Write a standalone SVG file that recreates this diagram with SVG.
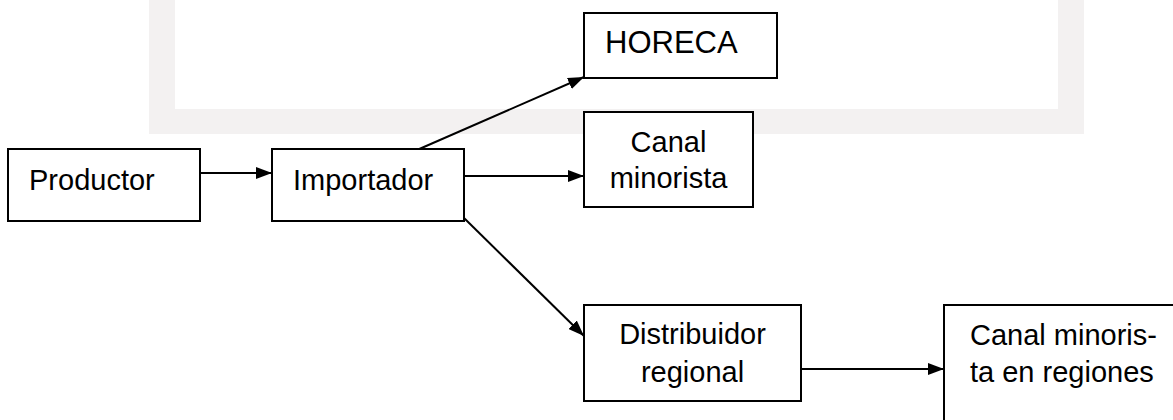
<svg xmlns="http://www.w3.org/2000/svg" width="1173" height="420" viewBox="0 0 1173 420">
<defs>
<style>
.box{fill:#ffffff;stroke:#000000;stroke-width:2}
.t{font-family:"Liberation Sans",Arial,sans-serif;font-size:29px;fill:#000000}
.c{text-anchor:middle}
.edge{stroke:#000000;stroke-width:2;fill:none;marker-end:url(#ah)}
</style>
<marker id="ah" viewBox="0 0 16 12" refX="16" refY="6" markerWidth="16" markerHeight="12" markerUnits="userSpaceOnUse" orient="auto">
<path d="M0,0 L16,6 L0,12 Z" fill="#000000"/>
</marker>
</defs>
<rect width="1173" height="420" fill="#ffffff"/>
<path id="frame" d="M149,0 L149,134 L1084,134 L1084,0 Z M175,0 L1058,0 L1058,109 L175,109 Z" fill="#f3f1f1" fill-rule="evenodd"/>
<g id="connectors">
<line class="edge" x1="200" y1="173" x2="272" y2="173"/>
<line class="edge" x1="417" y1="150" x2="584" y2="77"/>
<line class="edge" x1="464" y1="176" x2="584" y2="176"/>
<line class="edge" x1="464" y1="218" x2="584" y2="336"/>
<line class="edge" x1="801" y1="369" x2="944" y2="369"/>
</g>
<g id="productor">
<rect class="box" x="8" y="149" width="192" height="72"/>
<text class="t" x="29" y="190">Productor</text>
</g>
<g id="importador">
<rect class="box" x="272" y="149" width="192" height="72"/>
<text class="t" x="293" y="190">Importador</text>
</g>
<g id="horeca">
<rect class="box" x="584" y="13" width="193" height="65"/>
<text class="t" x="605" y="53" style="font-size:31px">HORECA</text>
</g>
<g id="canal-minorista">
<rect class="box" x="584" y="112" width="169" height="95"/>
<text class="t c" x="668.5" y="152">Canal</text>
<text class="t c" x="668.5" y="188">minorista</text>
</g>
<g id="distribuidor-regional">
<rect class="box" x="584" y="305" width="217" height="96"/>
<text class="t c" x="692.5" y="344">Distribuidor</text>
<text class="t c" x="692.5" y="382">regional</text>
</g>
<g id="canal-minorista-regiones">
<rect class="box" x="944" y="305" width="260" height="130"/>
<text class="t" x="970" y="345">Canal minoris-</text>
<text class="t" x="970" y="382">ta en regiones</text>
</g>
</svg>
